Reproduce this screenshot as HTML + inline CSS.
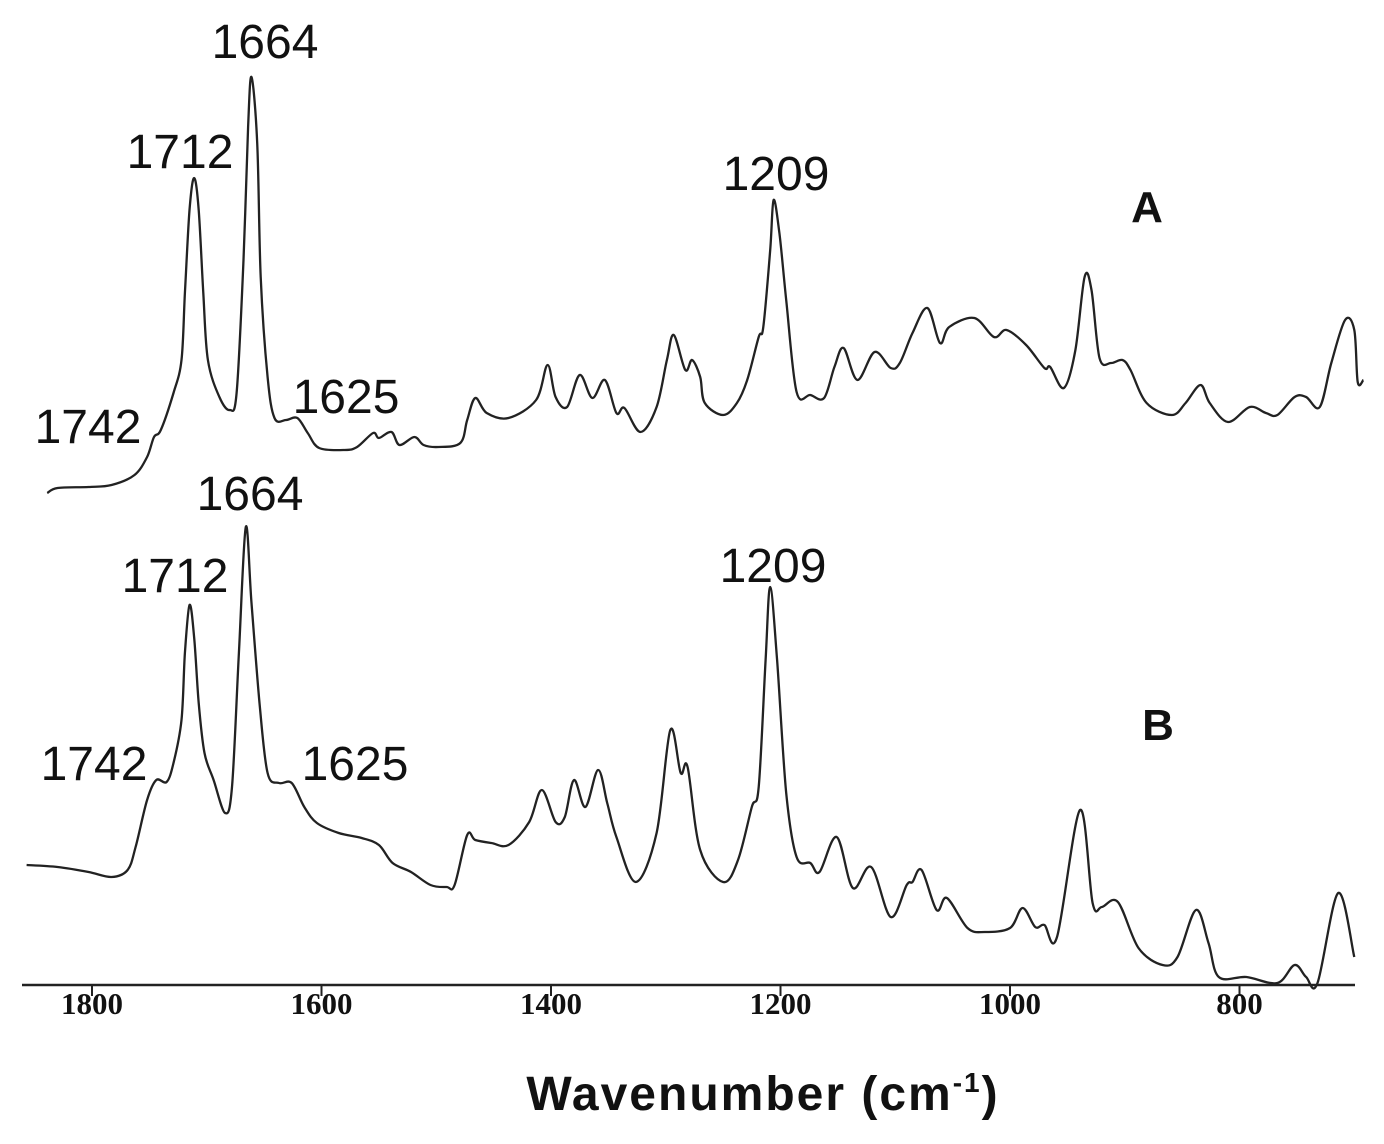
<!DOCTYPE html>
<html><head><meta charset="utf-8"><style>
html,body{margin:0;padding:0;background:#fff;}
svg{display:block;}
text{font-family:"Liberation Sans",sans-serif;fill:#111;}
</style></head><body>
<svg id="chart" width="1384" height="1144" viewBox="0 0 1384 1144" xmlns="http://www.w3.org/2000/svg">
<g id="axis"></g>
<g id="series"></g>
<g font-size="48">
<text x="265" y="58" text-anchor="middle">1664</text>
<text x="180" y="168" text-anchor="middle">1712</text>
<text x="776" y="190" text-anchor="middle">1209</text>
<text x="88" y="443" text-anchor="middle">1742</text>
<text x="346" y="413" text-anchor="middle">1625</text>
<text x="1147" y="222" text-anchor="middle" font-weight="bold" font-size="44">A</text>
</g>
<g font-size="48">
<text x="250" y="510" text-anchor="middle">1664</text>
<text x="175" y="592" text-anchor="middle">1712</text>
<text x="773" y="582" text-anchor="middle">1209</text>
<text x="94" y="780" text-anchor="middle">1742</text>
<text x="355" y="780" text-anchor="middle">1625</text>
<text x="1158" y="740" text-anchor="middle" font-weight="bold" font-size="44">B</text>
</g>
<text x="763" y="1110" text-anchor="middle" font-weight="bold" font-size="48" letter-spacing="2">Wavenumber (cm<tspan font-size="28" dy="-18">-1</tspan><tspan dy="18">)</tspan></text>
</svg>
<script>
const ticks = [1800, 1600, 1400, 1200, 1000, 800];
const tickLabels = ["1800", "1600", "1400", "1200", "1000", "800"];
const waveA = [1839,1830,1803,1783,1763,1752,1746,1740,1729,1722,1719,1715,1711,1707,1703,1699,1689,1680,1674,1668,1664,1661,1656,1653,1647,1641,1631,1621,1612,1602,1580,1569,1555,1550,1539,1532,1519,1511,1498,1479,1473,1466,1456,1437,1413,1403,1396,1386,1375,1364,1353,1343,1336,1322,1308,1299,1293,1283,1277,1270,1266,1250,1238,1229,1219,1215,1209,1206,1201,1195,1186,1174,1162,1153,1145,1133,1118,1104,1096,1085,1072,1061,1053,1031,1014,1003,986,970,965,953,943,935,929,922,912,902,895,881,859,847,834,826,810,791,777,767,752,742,730,720,708,700,697,692];
const intensA = [492,497,498,500,510,528,548,555,592,625,692,775,807,775,692,625,588,575,592,725,858,908,842,708,608,567,565,567,552,537,535,538,552,547,553,540,548,540,538,542,565,587,572,567,585,620,588,578,610,587,605,572,577,553,578,625,650,615,625,608,582,570,582,605,648,658,735,785,752,685,593,590,587,618,637,605,633,617,622,652,677,642,658,667,648,655,640,617,618,597,635,708,695,627,622,625,615,582,570,582,600,582,563,578,572,570,588,588,578,622,665,655,603,605];
const waveB = [1857,1830,1803,1783,1769,1762,1752,1744,1735,1729,1722,1719,1715,1711,1707,1702,1694,1684,1678,1672,1666,1661,1654,1647,1637,1626,1615,1604,1585,1565,1550,1538,1522,1505,1491,1484,1473,1466,1452,1437,1419,1408,1396,1388,1380,1370,1359,1351,1343,1326,1308,1296,1287,1281,1270,1250,1237,1225,1219,1213,1209,1203,1195,1186,1174,1166,1151,1137,1121,1104,1090,1085,1077,1064,1055,1037,1022,1000,989,978,970,959,939,928,920,906,888,867,854,838,827,818,794,767,752,742,732,714,700];
const intensB = [120,118,113,108,115,138,185,205,203,222,265,332,380,348,282,232,205,172,198,332,458,382,282,212,202,202,178,162,152,147,140,122,113,100,98,100,150,145,142,140,163,195,163,168,205,178,215,182,148,103,152,255,212,218,135,103,125,178,198,325,398,325,192,128,122,113,148,97,118,68,100,103,115,75,87,57,53,57,77,58,60,48,175,82,78,83,37,20,28,75,42,8,8,2,20,8,2,92,28];

const NS = "http://www.w3.org/2000/svg";
const axisY = 985;
function xScale(w){ return 92 + (1800 - w) * 1.1475; }
function yScale(v){ return axisY - v; }

const axis = document.getElementById('axis');
const line = document.createElementNS(NS,'line');


line.setAttribute('x1', 22); line.setAttribute('x2', 1355);
line.setAttribute('y1', axisY); line.setAttribute('y2', axisY);
line.setAttribute('stroke', '#222'); line.setAttribute('stroke-width', '2.5');
axis.appendChild(line);
ticks.forEach((t, i) => {
  const tk = document.createElementNS(NS,'line');
  
  
  tk.setAttribute('x1', xScale(t)); tk.setAttribute('x2', xScale(t));
  tk.setAttribute('y1', axisY); tk.setAttribute('y2', axisY + 11);
  tk.setAttribute('stroke', '#222'); tk.setAttribute('stroke-width', '2');
  axis.appendChild(tk);
  const lb = document.createElementNS(NS,'text');
  
  
  lb.setAttribute('x', xScale(t)); lb.setAttribute('y', 1014);
  lb.setAttribute('text-anchor', 'middle');
  lb.setAttribute('font-size', '31');
  lb.setAttribute('font-weight', 'bold');
  lb.setAttribute('style', 'font-family:"Liberation Serif",serif');
  lb.textContent = tickLabels[i];
  axis.appendChild(lb);
});

function drawSeries(waves, vals, name){
  const pts = waves.map((w, i) => [xScale(w), yScale(vals[i])]);
  let d = 'M' + pts[0][0].toFixed(1) + ' ' + pts[0][1].toFixed(1);
  for (let i = 0; i < pts.length - 1; i++) {
    const p0 = pts[Math.max(0, i - 1)], p1 = pts[i], p2 = pts[i + 1], p3 = pts[Math.min(pts.length - 1, i + 2)];
    const t = 0.5 / 3;
    const c1x = p1[0] + (p2[0] - p0[0]) * t, c1y = p1[1] + (p2[1] - p0[1]) * t;
    const c2x = p2[0] - (p3[0] - p1[0]) * t, c2y = p2[1] - (p3[1] - p1[1]) * t;
    d += ' C' + c1x.toFixed(1) + ' ' + c1y.toFixed(1) + ' ' + c2x.toFixed(1) + ' ' + c2y.toFixed(1) + ' ' + p2[0].toFixed(1) + ' ' + p2[1].toFixed(1);
  }
  const p = document.createElementNS(NS,'path');
  
  
  p.setAttribute('d', d);
  p.setAttribute('fill', 'none');
  p.setAttribute('stroke', '#222');
  p.setAttribute('stroke-width', '2.3');
  p.setAttribute('stroke-linejoin', 'round');
  document.getElementById('series').appendChild(p);
}
drawSeries(waveA, intensA, 'spectrum-a');
drawSeries(waveB, intensB, 'spectrum-b');
</script>
</body></html>
